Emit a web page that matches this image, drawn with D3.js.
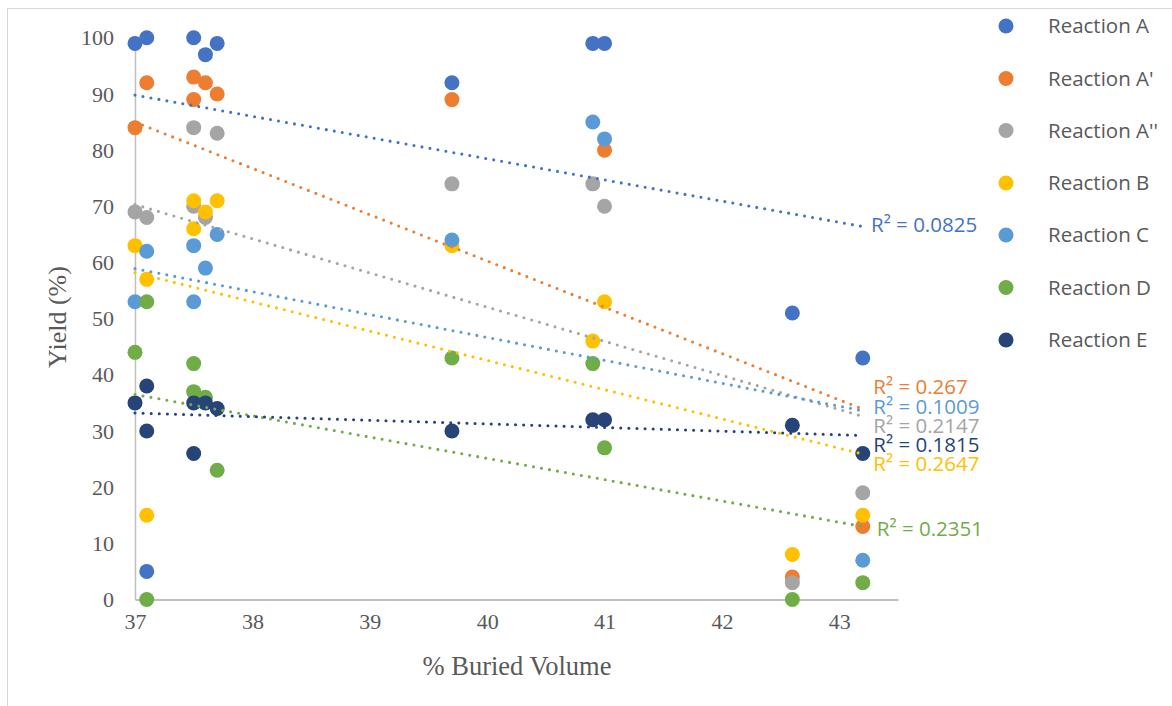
<!DOCTYPE html>
<html>
<head>
<meta charset="utf-8">
<script src="https://cdn.jsdelivr.net/npm/d3@7"></script>
<style>
  html, body { margin: 0; padding: 0; background: #ffffff; }
  svg { display: block; }
</style>
</head>
<body>
<svg id="chart" width="1172" height="706"></svg>
<script>
// ---- Data ----
const seriesNames = ["Reaction A", "Reaction A'", "Reaction A''", "Reaction B", "Reaction C", "Reaction D", "Reaction E"];
const seriesColors = ["#4472C4", "#ED7D31", "#A5A5A5", "#FFC000", "#5B9BD5", "#70AD47", "#264478"];

const reactionA  = [[37.0,99],[37.1,100],[37.1,5],[37.5,100],[37.6,97],[37.7,99],[39.7,92],[40.9,99],[41.0,99],[42.6,51],[43.2,43]];
const reactionA1 = [[37.0,84],[37.1,92],[37.5,93],[37.5,89],[37.6,92],[37.7,90],[39.7,89],[41.0,80],[42.6,4],[43.2,13]];
const reactionA2 = [[37.0,69],[37.1,68],[37.5,84],[37.5,70],[37.6,68],[37.7,83],[39.7,74],[40.9,74],[41.0,70],[42.6,3],[43.2,19]];
const reactionB  = [[37.0,63],[37.1,57],[37.1,15],[37.5,71],[37.5,66],[37.6,69],[37.7,71],[39.7,63],[40.9,46],[41.0,53],[42.6,8],[43.2,15]];
const reactionC  = [[37.0,53],[37.1,62],[37.5,63],[37.5,53],[37.6,59],[37.7,65],[39.7,64],[40.9,85],[41.0,82],[43.2,7]];
const reactionD  = [[37.0,44],[37.1,53],[37.1,0],[37.5,42],[37.5,37],[37.6,36],[37.7,23],[39.7,43],[40.9,42],[41.0,27],[42.6,0],[43.2,3]];
const reactionE  = [[37.0,35],[37.1,38],[37.1,30],[37.5,35],[37.5,26],[37.6,35],[37.7,34],[39.7,30],[40.9,32],[41.0,32],[42.6,31],[43.2,26]];
const seriesData = [reactionA, reactionA1, reactionA2, reactionB, reactionC, reactionD, reactionE];

// linear trendlines (value at x = 37.0 and at x = 43.2)
const trendX = [37.0, 43.2];
const trendStart = [89.8, 85.0, 70.3, 58.2, 58.9, 36.5, 33.2];
const trendEnd   = [66.4, 33.9, 32.6, 25.9, 33.6, 13.0, 29.2];
const r2Labels = ["0.0825", "0.267", "0.2147", "0.2647", "0.1009", "0.2351", "0.1815"];
// label anchor (x in data units, y in data units of the label baseline)
const r2LabelX = [43.27, 43.29, 43.29, 43.29, 43.29, 43.32, 43.29];
const r2LabelY = [65.4, 36.6, 29.7, 22.9, 33.1, 11.3, 26.3];

const xTicks = [37, 38, 39, 40, 41, 42, 43];
const yTicks = [0, 10, 20, 30, 40, 50, 60, 70, 80, 90, 100];
const xTitle = "% Buried Volume";
const yTitle = "Yield (%)";

// ---- Drawing ----
const svg = d3.select("#chart");
const x = d3.scaleLinear().domain([37, 43.5]).range([135, 898]);
const y = d3.scaleLinear().domain([0, 100]).range([599.5, 37.8]);

// chart area border
svg.append("rect")
  .attr("x", 7.5).attr("y", 8.5)
  .attr("width", 1300).attr("height", 800)
  .attr("fill", "none").attr("stroke", "#D9D9D9").attr("stroke-width", 1);

const axisColor = "#BFBFBF";
const textColor = "#595959";

// y axis
const yAxis = d3.axisLeft(y).tickValues(yTicks).tickSize(0).tickPadding(21);
const gy = svg.append("g").attr("transform", `translate(${x(37)},0)`).call(yAxis);
gy.select(".domain").attr("stroke", axisColor).attr("stroke-width", 1.5);
gy.selectAll("text")
  .attr("fill", textColor)
  .style("font-family", "'Liberation Serif', 'Times New Roman', serif")
  .style("font-size", "22px");

// x axis
const xAxis = d3.axisBottom(x).tickValues(xTicks).tickSize(0).tickPadding(14).tickFormat(d3.format("d"));
const gx = svg.append("g").attr("transform", `translate(0,${y(0)})`).call(xAxis);
gx.select(".domain").attr("stroke", axisColor).attr("stroke-width", 2);
gx.selectAll("text")
  .attr("fill", textColor)
  .style("font-family", "'Liberation Serif', 'Times New Roman', serif")
  .style("font-size", "22px");

// axis titles
svg.append("text")
  .attr("x", 517).attr("y", 666)
  .attr("text-anchor", "middle").attr("dominant-baseline", "central")
  .attr("fill", textColor)
  .style("font-family", "'Liberation Serif', 'Times New Roman', serif")
  .style("font-size", "26.5px")
  .text(xTitle);

svg.append("text")
  .attr("transform", "translate(57,317) rotate(-90)")
  .attr("text-anchor", "middle").attr("dominant-baseline", "central")
  .attr("fill", textColor)
  .style("font-family", "'Liberation Serif', 'Times New Roman', serif")
  .style("font-size", "26px")
  .text(yTitle);

// markers (series order, later on top)
seriesData.forEach((pts, i) => {
  svg.append("g").selectAll("circle")
    .data(pts).enter().append("circle")
    .attr("cx", d => x(d[0]))
    .attr("cy", d => y(d[1]))
    .attr("r", 7.5)
    .attr("fill", seriesColors[i]);
});

// trendlines (drawn above markers, as in Excel)
const line = d3.line().x(d => x(d[0])).y(d => y(d[1]));
seriesData.forEach((pts, i) => {
  svg.append("path")
    .datum([[trendX[0], trendStart[i]], [trendX[1], trendEnd[i]]])
    .attr("d", line)
    .attr("fill", "none")
    .attr("stroke", seriesColors[i])
    .attr("stroke-width", 3.1)
    .attr("stroke-linecap", "round")
    .attr("stroke-dasharray", "0 8.1");
});

// R² labels
seriesData.forEach((pts, i) => {
  svg.append("text")
    .attr("x", x(r2LabelX[i]))
    .attr("y", y(r2LabelY[i]))
    .attr("fill", seriesColors[i])
    .style("font-family", "'Open Sans', sans-serif")
    .style("font-size", "20.5px")
    .text("R² = " + r2Labels[i]);
});

// legend
const legendY = [26, 78.5, 130.5, 183, 235, 287.5, 340];
const legend = svg.append("g");
seriesNames.forEach((name, i) => {
  legend.append("circle")
    .attr("cx", 1006).attr("cy", legendY[i]).attr("r", 7.5)
    .attr("fill", seriesColors[i]);
  legend.append("text")
    .attr("x", 1048).attr("y", legendY[i] - 1)
    .attr("dominant-baseline", "central")
    .attr("fill", textColor)
    .style("font-family", "'Open Sans', sans-serif")
    .style("font-size", "20.5px")
    .text(name);
});
</script>
</body>
</html>
